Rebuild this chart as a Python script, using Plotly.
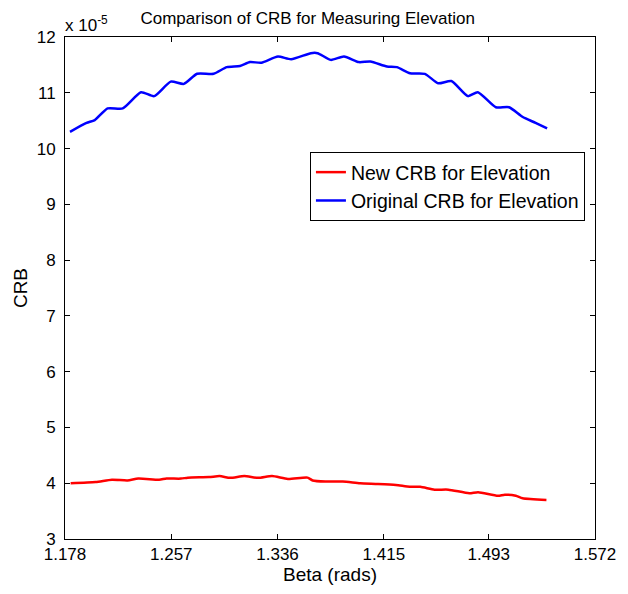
import plotly.graph_objects as go

# Data (CRB values in units of 1e-5)
blue_x = [1.1817, 1.1940, 1.2001, 1.2097, 1.2209, 1.2345, 1.2443, 1.2566, 1.2664, 1.2762,
          1.2885, 1.2983, 1.3081, 1.3155, 1.3240, 1.3363, 1.3461, 1.3608, 1.3658, 1.3756,
          1.3854, 1.3965, 1.4050, 1.4173, 1.4247, 1.4345, 1.4455, 1.4554, 1.4652, 1.4775,
          1.4849, 1.4983, 1.5081, 1.5180, 1.5278, 1.5364]
blue_y = [10.30, 10.46, 10.51, 10.72, 10.72, 11.01, 10.94, 11.20, 11.16, 11.34,
          11.34, 11.46, 11.48, 11.55, 11.54, 11.65, 11.60, 11.71, 11.71, 11.59,
          11.65, 11.55, 11.56, 11.47, 11.46, 11.35, 11.34, 11.17, 11.21, 10.94,
          11.01, 10.74, 10.74, 10.57, 10.46, 10.36]

red_x = [1.1822, 1.2008, 1.2129, 1.2244, 1.2325, 1.2480, 1.2535, 1.2642, 1.2693, 1.2851,
         1.2929, 1.3008, 1.3113, 1.3216, 1.3319, 1.3437, 1.3583, 1.3621, 1.3715, 1.3845,
         1.3974, 1.4107, 1.4240, 1.4343, 1.4421, 1.4527, 1.4630, 1.4785, 1.4851, 1.4998,
         1.5050, 1.5131, 1.5182, 1.5359]
red_y = [4.00, 4.02, 4.064, 4.05, 4.083, 4.064, 4.083, 4.083, 4.10, 4.11,
         4.128, 4.096, 4.128, 4.096, 4.128, 4.077, 4.10, 4.05, 4.03, 4.03,
         4.00, 3.987, 3.968, 3.936, 3.936, 3.885, 3.885, 3.82, 3.84, 3.776,
         3.795, 3.776, 3.73, 3.70]

x_tickvals = [1.178, 1.257, 1.336, 1.415, 1.493, 1.572]
x_ticklabels = ["1.178", "1.257", "1.336", "1.415", "1.493", "1.572"]
y_tickvals = [3, 4, 5, 6, 7, 8, 9, 10, 11, 12]

FONT = "Liberation Sans, Arial, sans-serif"

fig = go.Figure()
fig.add_trace(go.Scatter(x=red_x, y=red_y, mode="lines", name="New CRB for Elevation",
                         line=dict(color="#ff0000", width=2.5, shape="spline", smoothing=0.6)))
fig.add_trace(go.Scatter(x=blue_x, y=blue_y, mode="lines", name="Original CRB for Elevation",
                         line=dict(color="#0000ff", width=2.5, shape="spline", smoothing=0.6)))

axis_common = dict(showline=True, linecolor="black", linewidth=1, mirror="ticks",
                   ticks="inside", ticklen=5, tickcolor="black", showgrid=False, zeroline=False,
                   tickfont=dict(family=FONT, size=17, color="black"))

fig.update_layout(
    width=628, height=594,
    margin=dict(l=65, r=28, t=37, b=55),
    paper_bgcolor="white", plot_bgcolor="white",
    title=dict(text="Comparison of CRB for Measuring Elevation", x=0.49, xanchor="center",
               y=0.97, yanchor="middle", font=dict(family=FONT, size=17, color="black")),
    xaxis=dict(range=[1.178, 1.572], tickvals=x_tickvals, ticktext=x_ticklabels,
               title=dict(text="Beta (rads)", font=dict(family=FONT, size=19, color="black"), standoff=2),
               **axis_common),
    yaxis=dict(range=[3, 12], tickvals=y_tickvals, ticklabelstandoff=5,
               title=dict(text="CRB", font=dict(family=FONT, size=19, color="black"), standoff=4),
               **axis_common),
    legend=dict(x=0.981, y=0.771, xanchor="right", yanchor="top",
                bordercolor="black", borderwidth=1, bgcolor="white",
                font=dict(family=FONT, size=19.5, color="black"),
                tracegroupgap=0, itemwidth=30),
    showlegend=True,
    annotations=[dict(text="x 10<sup>-5</sup>", xref="paper", yref="paper", x=-0.003, y=1.0,
                      xanchor="left", yanchor="bottom", showarrow=False,
                      font=dict(family=FONT, size=17, color="black"))],
)

fig.write_html("out.html")
